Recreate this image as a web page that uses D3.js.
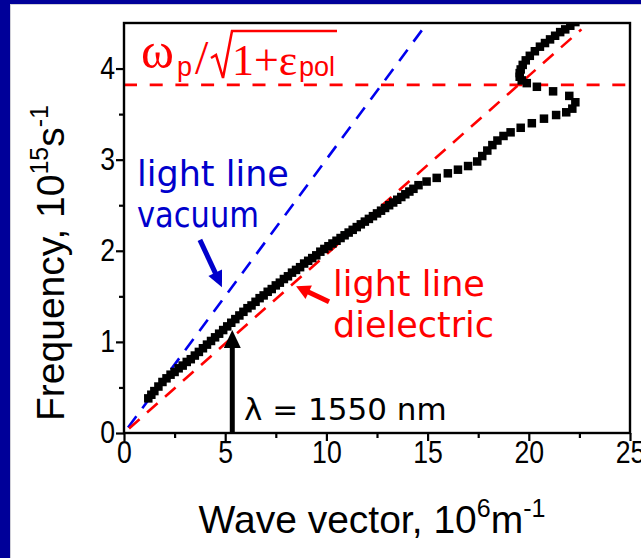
<!DOCTYPE html>
<html>
<head>
<meta charset="utf-8">
<script src="https://cdn.jsdelivr.net/npm/d3@7"></script>
<style>
body { margin: 0; background: #fff; }
</style>
</head>
<body>
<div id="chart"></div>
<script>
// dispersion curve (wave vector 10^6 m^-1, frequency 10^15 s^-1)
var waveVector = [1.2, 1.35, 1.5, 1.7, 1.9, 2.1, 2.3, 2.5, 2.7, 2.9, 3.1, 3.3, 3.5, 3.7, 3.9, 4.1, 4.3, 4.5, 4.7, 4.9,
    5.1, 5.3, 5.5, 5.7, 5.9, 6.1, 6.3, 6.5, 6.7, 6.9, 7.1, 7.3, 7.5, 7.7, 7.9, 8.1, 8.3, 8.5, 8.7, 8.9,
    9.1, 9.3, 9.5, 9.7, 9.9, 10.1, 10.3, 10.5, 10.7, 10.9, 11.1, 11.3, 11.5, 11.7, 11.9, 12.1, 12.3, 12.5, 12.7, 12.9,
    13.1, 13.3, 13.5, 13.7, 13.9, 14.1, 14.3, 14.55,
    14.95, 15.45, 16.0, 16.5, 17.0, 17.45, 17.7, 17.95, 18.2, 18.45, 18.75, 19.1, 19.6, 20.15, 20.75, 21.35, 21.85, 22.15, 22.3,
    22.0, 21.2, 20.4, 19.9, 19.65, 19.55, 19.55, 19.6, 19.7, 19.85, 20.05, 20.3, 20.55, 20.8, 21.05, 21.3, 21.55, 21.8, 22.05, 22.3]
var frequency = [0.38, 0.42, 0.46, 0.51, 0.56, 0.60, 0.64, 0.67, 0.71, 0.74, 0.78, 0.81, 0.85, 0.89, 0.93, 0.97, 1.01, 1.05, 1.09, 1.13,
    1.17, 1.21, 1.25, 1.29, 1.33, 1.37, 1.40, 1.44, 1.48, 1.51, 1.55, 1.58, 1.62, 1.65, 1.69, 1.72, 1.76, 1.79, 1.82, 1.86,
    1.89, 1.92, 1.95, 1.99, 2.02, 2.05, 2.08, 2.11, 2.14, 2.17, 2.20, 2.23, 2.26, 2.29, 2.32, 2.35, 2.38, 2.41, 2.44, 2.47,
    2.50, 2.53, 2.56, 2.59, 2.62, 2.65, 2.68, 2.72,
    2.76, 2.80, 2.85, 2.89, 2.93, 2.98, 3.04, 3.10, 3.16, 3.21, 3.26, 3.30, 3.35, 3.40, 3.45, 3.49, 3.52, 3.56, 3.63,
    3.70, 3.75, 3.80, 3.84, 3.87, 3.91, 3.95, 3.99, 4.04, 4.09, 4.14, 4.19, 4.24, 4.28, 4.32, 4.36, 4.40, 4.43, 4.47, 4.51]

var vacuumK = [0.2, 14.75]
var vacuumW = [0.06, 4.43]
var dielectricK = [0.25, 22.6]
var dielectricW = [0.05, 4.43]
var plasmaLevel = 3.82
var lambdaK = 5.35
var lambdaW = 1.13

var xTicks = [0, 5, 10, 15, 20, 25]
var yTicks = [0, 1, 2, 3, 4]
var xMinor = [2.5, 7.5, 12.5, 17.5, 22.5]
var yMinor = [0.5, 1.5, 2.5, 3.5]

var width = 641, height = 558
var padL = 124, padR = 630, padT = 23, padB = 433

var svg = d3.select('#chart')
    .append('svg')
    .attr('width', width)
    .attr('height', height)

// slide background
svg.append('rect').attr('width', width).attr('height', height).attr('fill', '#000099')
svg.append('rect').attr('x', 10).attr('y', 4).attr('width', width).attr('height', height).attr('fill', '#d0d0d8')
svg.append('rect').attr('x', 11).attr('y', 5).attr('width', width).attr('height', height).attr('fill', '#fff')

var x = d3.scaleLinear().domain([0, 25]).range([padL, padR])
var y = d3.scaleLinear().domain([0, 4.5]).range([padB, padT])

svg.append('defs').append('clipPath').attr('id', 'plotClip')
    .append('rect')
    .attr('x', padL).attr('y', padT)
    .attr('width', padR - padL).attr('height', padB - padT)

var plot = svg.append('g').attr('clip-path', 'url(#plotClip)')

// light lines and plasma level
plot.append('line')
    .attr('x1', x(vacuumK[0])).attr('y1', y(vacuumW[0]))
    .attr('x2', x(vacuumK[1])).attr('y2', y(vacuumW[1]))
    .attr('stroke', '#0000ee').attr('stroke-width', 2.6).attr('stroke-dasharray', '14,10')

plot.append('line')
    .attr('x1', x(dielectricK[0])).attr('y1', y(dielectricW[0]))
    .attr('x2', x(dielectricK[1])).attr('y2', y(dielectricW[1]))
    .attr('stroke', '#ff0000').attr('stroke-width', 2.6).attr('stroke-dasharray', '14,10')

plot.append('line')
    .attr('x1', x(0)).attr('y1', y(plasmaLevel))
    .attr('x2', x(25)).attr('y2', y(plasmaLevel))
    .attr('stroke', '#ff0000').attr('stroke-width', 2.8).attr('stroke-dasharray', '13,12.7')

// dispersion squares
var sq = 8.5
plot.selectAll('rect.pt')
    .data(d3.range(waveVector.length))
    .enter()
    .append('rect')
    .attr('class', 'pt')
    .attr('x', function(i) { return x(waveVector[i]) - sq / 2 })
    .attr('y', function(i) { return y(frequency[i]) - sq / 2 })
    .attr('width', sq)
    .attr('height', sq)
    .attr('fill', '#000')

// axes
var xAxis = svg.append('g').attr('transform', 'translate(0,' + padB + ')')
    .call(d3.axisBottom(x).tickValues(xTicks).tickSize(8).tickFormat(d3.format('d')))
var xAxisMinor = svg.append('g').attr('transform', 'translate(0,' + padB + ')')
    .call(d3.axisBottom(x).tickValues(xMinor).tickSize(5).tickFormat(''))
var yAxis = svg.append('g').attr('transform', 'translate(' + padL + ',0)')
    .call(d3.axisLeft(y).tickValues(yTicks).tickSize(8).tickFormat(d3.format('d')))
var yAxisMinor = svg.append('g').attr('transform', 'translate(' + padL + ',0)')
    .call(d3.axisLeft(y).tickValues(yMinor).tickSize(5).tickFormat(''))

svg.selectAll('.domain').remove()
svg.selectAll('.tick line').attr('stroke', '#000').attr('stroke-width', 2.2)
svg.selectAll('.tick text')
    .attr('font-family', 'Liberation Sans, Arial, sans-serif')
    .attr('font-size', 31)
    .attr('fill', '#000')
    .attr('transform', 'scale(0.86,1)')
xAxis.selectAll('.tick text').attr('dy', '0.75em').attr('y', 7)
yAxis.selectAll('.tick text').attr('x', -10.5)

// frame
svg.append('rect')
    .attr('x', padL).attr('y', padT)
    .attr('width', padR - padL).attr('height', padB - padT)
    .attr('fill', 'none').attr('stroke', '#000').attr('stroke-width', 2.4)

// axis titles
var tfont = 'Liberation Sans, Arial, sans-serif'
var yt = svg.append('text')
    .attr('transform', 'translate(64,263) rotate(-90)')
    .attr('text-anchor', 'middle')
    .attr('font-family', tfont).attr('font-size', 39)
yt.append('tspan').text('Frequency, 10')
yt.append('tspan').attr('font-size', 25).attr('dy', -16).text('15')
yt.append('tspan').attr('dy', 16).text('s')
yt.append('tspan').attr('font-size', 25).attr('dy', -16).text('-1')

var xt = svg.append('text')
    .attr('x', 372).attr('y', 533)
    .attr('text-anchor', 'middle')
    .attr('font-family', tfont).attr('font-size', 39)
xt.append('tspan').text('Wave vector, 10')
xt.append('tspan').attr('font-size', 25).attr('dy', -16).text('6')
xt.append('tspan').attr('dy', 16).text('m')
xt.append('tspan').attr('font-size', 25).attr('dy', -16).text('-1')

// plasma frequency label
var red = '#ff0000'
var serif = 'Liberation Serif, Times New Roman, serif'
svg.append('text').attr('x', 141).attr('y', 68).attr('font-family', serif).attr('font-size', 50).attr('fill', red).text('ω')
svg.append('text').attr('x', 177).attr('y', 76).attr('font-family', tfont).attr('font-size', 27).attr('fill', red).text('p')
svg.append('text').attr('x', 195).attr('y', 74).attr('font-family', serif).attr('font-size', 48).attr('fill', red).text('/')
svg.append('path')
    .attr('d', 'M211,58 L216,55 L223,78 L232,31 L337,31')
    .attr('fill', 'none').attr('stroke', red).attr('stroke-width', 2.5)
svg.append('text').attr('x', 232).attr('y', 75).attr('font-family', serif).attr('font-size', 44).attr('fill', red).text('1+ε')
svg.append('text').attr('x', 299).attr('y', 76).attr('font-family', tfont).attr('font-size', 27).attr('fill', red).text('pol')

// notes
var hand = 'Comic Sans MS, DejaVu Sans, sans-serif'
var blue = '#0000cc'
svg.append('text').attr('x', 137).attr('y', 186).attr('font-family', hand).attr('font-size', 35).attr('fill', blue).text('light line')
svg.append('text').attr('x', 137).attr('y', 227).attr('font-family', hand).attr('font-size', 35).attr('fill', blue)
    .attr('textLength', 122).attr('lengthAdjust', 'spacingAndGlyphs').text('vacuum')
svg.append('text').attr('x', 333).attr('y', 296).attr('font-family', hand).attr('font-size', 35).attr('fill', red).text('light line')
svg.append('text').attr('x', 333).attr('y', 337).attr('font-family', hand).attr('font-size', 35).attr('fill', red).text('dielectric')
svg.append('text').attr('x', 244).attr('y', 420).attr('font-family', hand).attr('font-size', 31).attr('fill', '#000').text('λ = 1550 nm')

function arrow(x1, y1, x2, y2, color, w, head, headW) {
    var dx = x2 - x1, dy = y2 - y1
    var len = Math.sqrt(dx * dx + dy * dy)
    var ux = dx / len, uy = dy / len
    var bx = x2 - ux * head, by = y2 - uy * head
    svg.append('line')
        .attr('x1', x1).attr('y1', y1).attr('x2', bx + ux).attr('y2', by + uy)
        .attr('stroke', color).attr('stroke-width', w)
    svg.append('path')
        .attr('d', 'M' + x2 + ',' + y2 +
            ' L' + (bx - uy * headW / 2) + ',' + (by + ux * headW / 2) +
            ' L' + (bx + uy * headW / 2) + ',' + (by - ux * headW / 2) + ' Z')
        .attr('fill', color)
}

arrow(x(3.75), y(2.12), x(4.84), y(1.60), blue, 5, 16, 15)
arrow(x(10.13), y(1.44), x(8.5), y(1.61), red, 5, 14, 15)
arrow(x(lambdaK), y(0), x(lambdaK), y(lambdaW), '#000', 5, 18, 17)
</script>
</body>
</html>
